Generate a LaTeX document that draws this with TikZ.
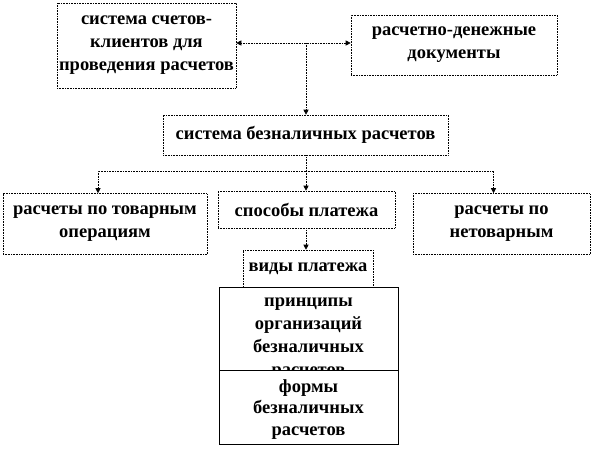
\documentclass[tikz,border=0pt]{standalone}
\usepackage{fontspec}
\setmainfont{Liberation Serif}
\usetikzlibrary{arrows.meta}

\tikzset{
  box/.style={draw, densely dotted, line width=0.6pt, inner sep=0pt, align=center,
    font=\fontsize{18.5}{23}\selectfont\bfseries},
  solidbox/.style={draw, line width=0.6pt, inner sep=0pt},
  link/.style={densely dotted, line width=0.6pt, -{Triangle[length=5pt,width=5pt]}},
  bilink/.style={link, {Triangle[length=5pt,width=5pt]}-{Triangle[length=5pt,width=5pt]}}
}

\begin{document}
\begin{tikzpicture}[x=1pt, y=-1pt]
  \useasboundingbox (0,0) rectangle (594,448);

  % upper row
  \node[box, minimum width=179pt, minimum height=85pt] (schet) at (146.5,45.5)
    {система счетов-\\клиентов для\\проведения расчетов};
  \node[box, minimum width=206pt, minimum height=60pt] (docs) at (454,45)
    {расчетно-денежные\\документы};
  \node[box, minimum width=285pt, minimum height=40pt] (bezn) at (305.5,135)
    {система безналичных расчетов};

  % middle row
  \node[box, minimum width=204pt, minimum height=61pt] (tovar) at (105,224)
    {расчеты по товарным\\операциям};
  \node[box, minimum width=177pt, minimum height=37pt] (sposob) at (306.5,209.5)
    {способы платежа};
  \node[box, minimum width=177pt, minimum height=61pt] (netovar) at (501.5,224)
    {расчеты по\\нетоварным};

  % lower stack
  \node[box, minimum width=130pt, minimum height=37pt] (vidy) at (308,268.5)
    {виды платежа};
  \node[solidbox, fill=white, minimum width=179pt, minimum height=83pt] (princ) at (308.5,328.5) {};
  \node[solidbox, minimum width=179pt, minimum height=74pt] (formy) at (308.5,407) {};
  \node[align=center, inner sep=0pt, font=\fontsize{18.5}{21.5}\selectfont\bfseries]
    (formytext) at (308.5,409.5) {формы\\безналичных\\расчетов};
  \begin{scope}
    \clip (princ.north west) rectangle (princ.south east);
    \node[align=center, anchor=north, inner sep=0pt,
      font=\fontsize{18.5}{23}\selectfont\bfseries] (princtext) at ([yshift=-11pt]princ.north)
      {принципы\\организаций\\безналичных\\\smash{расчетов}};
  \end{scope}

  % connectors
  \coordinate (top) at (306,43);
  \coordinate (fork) at (306,171);
  \draw[bilink] (schet.east |- top) -- (docs.west |- top);
  \draw[link] (top) -- (top |- bezn.north);
  \draw[densely dotted, line width=0.6pt] (bezn.south -| fork) -- (fork);
  \draw[link] (fork) -| ([xshift=-7pt]tovar.north);
  \draw[link] (fork) -- (fork |- sposob.north);
  \draw[link] (fork) -| ([xshift=-8pt]netovar.north);
  \draw[link] (sposob.south -| fork) -- (fork |- vidy.north);
\end{tikzpicture}
\end{document}
